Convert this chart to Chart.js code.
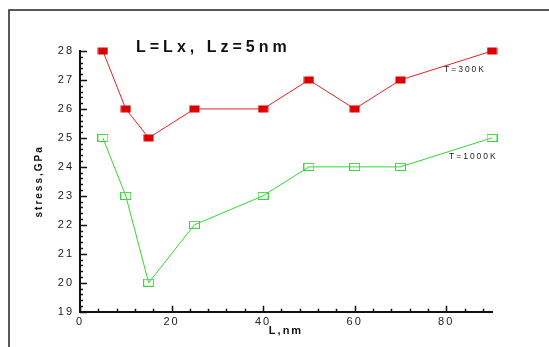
<!DOCTYPE html>
<html>
<head>
<meta charset="utf-8">
<script src="https://cdn.jsdelivr.net/npm/chart.js@4/dist/chart.umd.min.js"></script>
<style>
  html, body { margin: 0; padding: 0; background: #fff; }
  #wrap { width: 549px; height: 347px; }
</style>
</head>
<body>
<div id="wrap"><canvas id="stressChart"></canvas></div>
<script>
// values
const lengths = [5, 10, 15, 25, 40, 50, 60, 70, 90];
const stress300K = [28, 26, 25, 26, 26, 27, 26, 27, 28];
const stress1000K = [25, 23, 20, 22, 23, 24, 24, 24, 25];
const seriesNames = ['T=300K', 'T=1000K'];
const chartTitle = 'L=Lx, Lz=5nm';
const xTitle = 'L,nm';
const yTitle = 'stress,GPa';

function marker(color, filled) {
  const c = document.createElement('canvas');
  c.width = 11; c.height = 8;
  const g = c.getContext('2d');
  if (filled) {
    g.fillStyle = color;
    g.fillRect(0.5, 0.5, 10, 7);
  } else {
    g.strokeStyle = color;
    g.lineWidth = 1;
    g.strokeRect(0.5, 0.5, 10, 7);
  }
  return c;
}

const toPoints = (ys) => lengths.map((x, i) => ({ x: x, y: ys[i] }));
const spaced = (v) => String(v);

// frame, inward ticks and free text
const decorations = {
  id: 'decorations',
  beforeDraw(chart) {
    const ctx = chart.ctx;
    ctx.letterSpacing = '2px';
    ctx.save();
    ctx.fillStyle = '#fff';
    ctx.fillRect(0, 0, chart.width, chart.height);
    ctx.strokeStyle = '#222';
    ctx.lineWidth = 1.5;
    ctx.beginPath();
    ctx.moveTo(9, chart.height);
    ctx.lineTo(9, 10);
    ctx.lineTo(chart.width, 10);
    ctx.stroke();
    ctx.restore();
  },
  afterDraw(chart) {
    const ctx = chart.ctx;
    const xs = chart.scales.x, ys = chart.scales.y;
    const area = chart.chartArea;
    ctx.save();
    ctx.strokeStyle = '#111';
    ctx.lineWidth = 1.5;
    ctx.beginPath();
    for (let v = 0; v <= 88; v += 4) {
      const px = Math.round(xs.getPixelForValue(v)) + 0.5;
      const len = v % 20 === 0 ? 6 : 3;
      ctx.moveTo(px, area.bottom);
      ctx.lineTo(px, area.bottom - len);
    }
    for (let k = 0; k <= 45; k++) {
      const v = 19 + k * 0.2;
      const py = Math.round(ys.getPixelForValue(v)) + 0.5;
      const len = k % 5 === 0 ? 7 : 3;
      ctx.moveTo(area.left, py);
      ctx.lineTo(area.left + len, py);
    }
    ctx.stroke();

    ctx.fillStyle = '#111';
    ctx.textBaseline = 'middle';
    ctx.textAlign = 'left';
    ctx.letterSpacing = '4px';
    ctx.font = 'bold 16px "Liberation Sans", Arial, sans-serif';
    ctx.fillText(chartTitle, 136, 48);

    ctx.letterSpacing = '2px';
    ctx.font = '8.5px "Liberation Sans", Arial, sans-serif';
    ctx.fillStyle = '#222';
    ctx.fillText(seriesNames[0], 444, 70);
    ctx.fillText(seriesNames[1], 449, 157);
    ctx.restore();
  }
};

new Chart(document.getElementById('stressChart'), {
  type: 'line',
  data: {
    datasets: [
      {
        label: seriesNames[0],
        data: toPoints(stress300K),
        borderColor: '#e82020',
        borderWidth: 1,
        pointStyle: marker('#dd0000', true),
        clip: false
      },
      {
        label: seriesNames[1],
        data: toPoints(stress1000K),
        borderColor: '#33d633',
        borderWidth: 1,
        pointStyle: marker('#3ad83a', false),
        clip: false
      }
    ]
  },
  options: {
    responsive: true,
    maintainAspectRatio: false,
    animation: false,
    layout: { padding: { left: 29, top: 51, right: 57, bottom: 5 } },
    plugins: { legend: { display: false }, tooltip: { enabled: false } },
    scales: {
      x: {
        type: 'linear',
        min: 0,
        max: 90,
        grid: { display: false, drawTicks: false, tickLength: 0 },
        border: { color: '#111', width: 2 },
        ticks: {
          stepSize: 20,
          includeBounds: false,
          padding: 4,
          color: '#222',
          font: { family: '"Liberation Sans", Arial, sans-serif', size: 11 },
          callback: spaced
        },
        title: {
          display: true,
          text: xTitle,
          color: '#111',
          font: { family: '"Liberation Sans", Arial, sans-serif', size: 11, weight: 'bold' }
        },
        afterFit(scale) { scale.height = 30.3; }
      },
      y: {
        min: 19,
        max: 28,
        grid: { display: false, drawTicks: false, tickLength: 0 },
        border: { color: '#111', width: 2 },
        ticks: {
          stepSize: 1,
          padding: 6,
          color: '#222',
          font: { family: '"Liberation Sans", Arial, sans-serif', size: 11 },
          callback: spaced
        },
        title: {
          display: true,
          text: yTitle,
          color: '#111',
          font: { family: '"Liberation Sans", Arial, sans-serif', size: 10, weight: 'bold' }
        },
        afterFit(scale) { scale.width = 51; }
      }
    }
  },
  plugins: [decorations]
});
</script>
</body>
</html>
